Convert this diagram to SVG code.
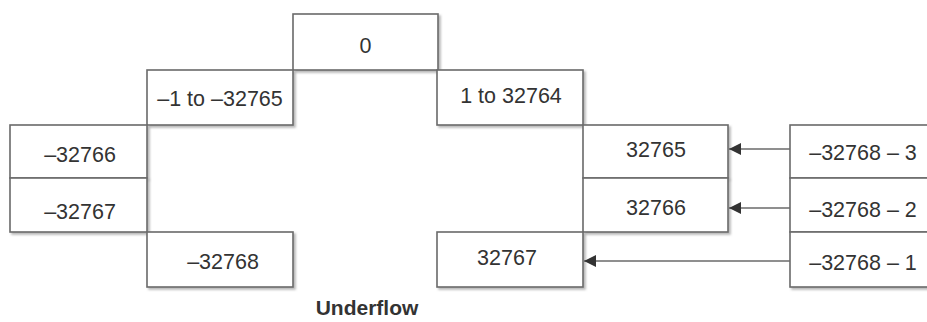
<svg xmlns="http://www.w3.org/2000/svg" width="927" height="322" viewBox="0 0 927 322">
<style>
.box{fill:#fff;stroke:#6a6a6a;stroke-width:1.6;filter:url(#sh)}
.t{font-family:"Liberation Sans",Arial,sans-serif;font-size:21.5px;fill:#333;text-anchor:middle}
.lbl{font-family:"Liberation Sans",Arial,sans-serif;font-size:21px;font-weight:bold;fill:#333;text-anchor:middle}
.c{stroke:#6a6a6a;stroke-width:1.5;fill:none;marker-end:url(#ah)}
</style>
<defs>
<filter id="sh" x="-5%" y="-5%" width="115%" height="125%">
<feDropShadow dx="2" dy="2" stdDeviation="0.8" flood-color="#999" flood-opacity="0.7"/>
</filter>
<marker id="ah" viewBox="0 0 12 12" refX="12" refY="6" markerWidth="12" markerHeight="12" markerUnits="userSpaceOnUse" orient="auto">
<path d="M0,0 L12,6 L0,12 Z" fill="#333"/>
</marker>
</defs>
<g id="n-0"><rect class="box" x="293" y="14" width="145" height="56"/><text class="t" x="365.5" y="53">0</text></g>
<g id="n-neg1"><rect class="box" x="147" y="70" width="146" height="55"/><text class="t" x="220" y="106">–1 to –32765</text></g>
<g id="n-pos1"><rect class="box" x="437" y="70" width="146" height="55"/><text class="t" x="511" y="103">1 to 32764</text></g>
<g id="n-m32766"><rect class="box" x="10" y="125" width="137" height="53"/><text class="t" x="80" y="162">–32766</text></g>
<g id="n-m32767"><rect class="box" x="10" y="178" width="137" height="54"/><text class="t" x="80" y="219">–32767</text></g>
<g id="n-m32768"><rect class="box" x="147" y="232" width="146" height="55"/><text class="t" x="223" y="269">–32768</text></g>
<g id="n-32765"><rect class="box" x="583" y="125" width="145" height="53"/><text class="t" x="656" y="157">32765</text></g>
<g id="n-32766"><rect class="box" x="583" y="178" width="145" height="54"/><text class="t" x="656" y="215">32766</text></g>
<g id="n-32767"><rect class="box" x="437" y="232" width="146" height="55"/><text class="t" x="507" y="265">32767</text></g>
<g id="n-r3"><rect class="box" x="790" y="125" width="150" height="53"/><text class="t" x="863" y="160">–32768 – 3</text></g>
<g id="n-r2"><rect class="box" x="790" y="178" width="150" height="54"/><text class="t" x="863" y="217">–32768 – 2</text></g>
<g id="n-r1"><rect class="box" x="790" y="232" width="150" height="55"/><text class="t" x="863" y="270">–32768 – 1</text></g>
<g id="connectors">
<line class="c" x1="790" y1="149" x2="729" y2="149"/>
<line class="c" x1="790" y1="208" x2="729" y2="208"/>
<line class="c" x1="790" y1="261" x2="584" y2="261"/>
</g>
<text class="lbl" x="367" y="315">Underflow</text>
</svg>
